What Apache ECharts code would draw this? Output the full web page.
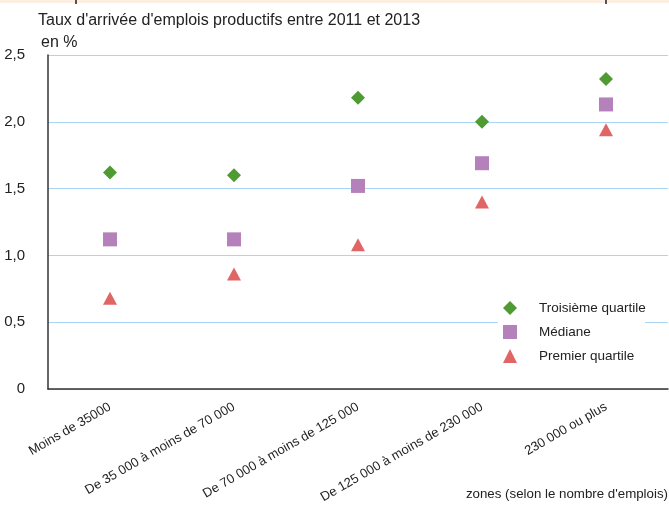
<!DOCTYPE html>
<html>
<head>
<meta charset="utf-8">
<script src="https://cdn.jsdelivr.net/npm/echarts@6/dist/echarts.min.js"></script>
<style>
  html, body { margin: 0; padding: 0; background: #ffffff; }
  #chart { width: 669px; height: 507px; }
</style>
</head>
<body>
<div id="chart"></div>
<script>
// Size classes of employment zones
const categories = [
  'Moins de 35000',
  'De 35 000 à moins de 70 000',
  'De 70 000 à moins de 125 000',
  'De 125 000 à moins de 230 000',
  '230 000 ou plus'
];

// Rate of arrival of productive jobs, 2011-2013 (%)
const troisiemeQuartile = [1.62, 1.60, 2.18, 2.00, 2.32];
const mediane = [1.12, 1.12, 1.52, 1.69, 2.13];
const premierQuartile = [0.68, 0.86, 1.08, 1.40, 1.94];

const yTicks = [0, 0.5, 1.0, 1.5, 2.0, 2.5];

const FONT = '"Liberation Sans", Arial, sans-serif';
const TEXT = '#222222';

const chart = echarts.init(document.getElementById('chart'), null, { renderer: 'canvas' });

const fmtTick = v => (v === 0 ? '0' : v.toFixed(1).replace('.', ','));

chart.setOption({
  animation: false,
  backgroundColor: '#ffffff',
  textStyle: { fontFamily: FONT, color: TEXT },
  graphic: [
    { type: 'rect', shape: { x: 0, y: 0, width: 669, height: 3 }, style: { fill: '#fdeee2' }, silent: true },
    { type: 'rect', shape: { x: 75, y: 0, width: 2, height: 4 }, style: { fill: '#555555' }, silent: true },
    { type: 'rect', shape: { x: 605, y: 0, width: 2, height: 4 }, style: { fill: '#555555' }, silent: true },
    { type: 'text', left: 38, top: 13, style: { text: "Taux d'arrivée d'emplois productifs entre 2011 et 2013", font: '16px ' + FONT, fill: TEXT } },
    { type: 'text', left: 41, top: 35, style: { text: 'en %', font: '16px ' + FONT, fill: TEXT } },
    { type: 'text', right: 1, top: 488, style: { text: "zones (selon le nombre d'emplois)", font: '13.3px ' + FONT, fill: TEXT } },
    // white panel behind the legend, covering the grid line
    { type: 'rect', z: 1, shape: { x: 498, y: 296, width: 147, height: 72 }, style: { fill: '#ffffff' }, silent: true }
  ],
  legend: {
    orient: 'vertical',
    left: 503,
    top: 301,
    itemGap: 10,
    itemWidth: 14,
    itemHeight: 14,
    padding: 0,
    textStyle: { fontFamily: FONT, fontSize: 13.5, color: TEXT, padding: [0, 0, 0, 17] },
    data: ['Troisième quartile', 'Médiane', 'Premier quartile']
  },
  grid: { left: 48, right: 1, top: 55, bottom: 118 },
  xAxis: {
    type: 'category',
    data: categories,
    boundaryGap: true,
    axisLine: { lineStyle: { color: '#333333', width: 1.5 } },
    axisTick: { show: false },
    axisLabel: { rotate: 30, margin: 17, fontSize: 13, fontFamily: FONT, color: TEXT, interval: 0 },
    splitLine: { show: false }
  },
  yAxis: {
    type: 'value',
    min: yTicks[0],
    max: yTicks[yTicks.length - 1],
    interval: 0.5,
    axisLine: { show: true, lineStyle: { color: '#333333', width: 1.5 } },
    axisTick: { show: false },
    axisLabel: { margin: 23, fontSize: 15, fontFamily: FONT, color: TEXT, formatter: fmtTick },
    splitLine: { show: true, lineStyle: { color: '#a9d6f5', width: 1 } }
  },
  series: [
    {
      name: 'Troisième quartile',
      type: 'scatter',
      symbol: 'diamond',
      symbolSize: 14,
      itemStyle: { color: '#4f9a32', opacity: 1 },
      data: troisiemeQuartile
    },
    {
      name: 'Médiane',
      type: 'scatter',
      symbol: 'rect',
      symbolSize: 14,
      itemStyle: { color: '#b581ba', opacity: 1 },
      data: mediane
    },
    {
      name: 'Premier quartile',
      type: 'scatter',
      symbol: 'triangle',
      symbolSize: [14, 13],
      itemStyle: { color: '#e06666', opacity: 1 },
      data: premierQuartile
    }
  ]
});
</script>
</body>
</html>
